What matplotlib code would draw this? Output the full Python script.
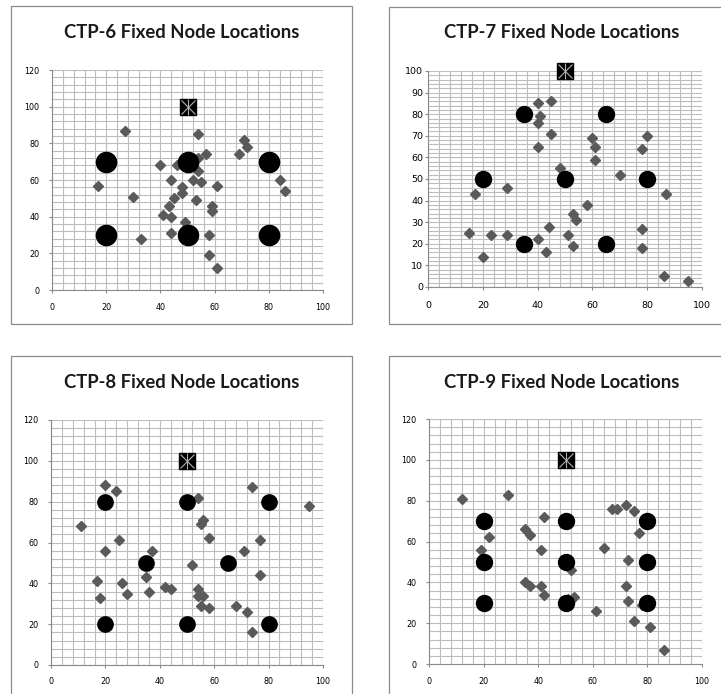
"""Four panels of fixed node locations (CTP-6 .. CTP-9)."""

import matplotlib
matplotlib.use("Agg")
import matplotlib.pyplot as plt
from matplotlib.patches import Rectangle

W, H, DPI = 721, 694, 100

titles = ["CTP-6 Fixed Node Locations", "CTP-7 Fixed Node Locations",
          "CTP-8 Fixed Node Locations", "CTP-9 Fixed Node Locations"]

sink_x = [50]
sink_y = [100]

# CTP-6
fixed6_x = [20, 50, 80, 20, 50, 80]
fixed6_y = [70, 70, 70, 30, 30, 30]
nodes6_x = [27, 54, 71, 72, 69, 57, 54, 52, 46, 40, 54, 52, 55, 44, 61, 84, 86, 17,
            30, 48, 48, 45, 53, 43, 59, 59, 41, 44, 49, 44, 58, 33, 58, 61]
nodes6_y = [87, 85, 82, 78, 74, 74, 72, 71, 68, 68, 65, 60, 59, 60, 57, 60, 54, 57,
            51, 56, 53, 50, 49, 46, 46, 43, 41, 40, 37, 31, 30, 28, 19, 12]

# CTP-7
fixed7_x = [35, 65, 20, 50, 80, 35, 65]
fixed7_y = [80, 80, 50, 50, 50, 20, 20]
nodes7_x = [40, 45, 41, 40, 45, 40, 60, 61, 61, 80, 78, 70, 48, 49, 29, 17, 87, 58,
            53, 54, 44, 15, 23, 29, 40, 51, 78, 78, 43, 53, 20, 86, 95]
nodes7_y = [85, 86, 79, 76, 71, 65, 69, 65, 59, 70, 64, 52, 55, 49, 46, 43, 43, 38,
            34, 31, 28, 25, 24, 24, 22, 24, 27, 18, 16, 19, 14, 5, 3]

# CTP-8
fixed8_x = [20, 50, 80, 35, 65, 20, 50, 80]
fixed8_y = [80, 80, 80, 50, 50, 20, 20, 20]
nodes8_x = [20, 24, 11, 25, 20, 17, 18, 26, 28, 35, 37, 36, 42, 44, 54, 56, 55, 58,
            52, 54, 54, 56, 55, 58, 68, 72, 74, 71, 77, 77, 74, 95]
nodes8_y = [88, 85, 68, 61, 56, 41, 33, 40, 35, 43, 56, 36, 38, 37, 82, 71, 69, 62,
            49, 37, 34, 34, 29, 28, 29, 26, 16, 56, 61, 44, 87, 78]

# CTP-9
fixed9_x = [20, 20, 20, 50, 50, 50, 80, 80, 80]
fixed9_y = [70, 50, 30, 70, 50, 30, 70, 50, 30]
nodes9_x = [12, 29, 42, 35, 37, 22, 19, 41, 35, 37, 41, 42, 52, 51, 53, 61, 64, 67,
            69, 72, 75, 77, 73, 72, 73, 75, 78, 81, 86]
nodes9_y = [81, 83, 72, 66, 63, 62, 56, 56, 40, 38, 38, 34, 46, 32, 33, 26, 57, 76,
            76, 78, 75, 64, 51, 38, 31, 21, 29, 18, 7]

panels = [
    (fixed6_x, fixed6_y, nodes6_x, nodes6_y),
    (fixed7_x, fixed7_y, nodes7_x, nodes7_y),
    (fixed8_x, fixed8_y, nodes8_x, nodes8_y),
    (fixed9_x, fixed9_y, nodes9_x, nodes9_y),
]

# pixel boxes: (left, top, right, bottom) for frame and plot area
frames = [(11, 6, 352, 324), (389, 7, 730, 324),
          (11, 356, 352, 705), (389, 356, 730, 705)]
areas = [(52, 70, 323, 290), (428, 71, 702, 287),
         (51, 420, 323, 665), (429, 419, 702, 664)]
title_pos = [(182, 33), (562, 33), (182, 383), (562, 383)]
circle_ms = [14.5, 11.5, 11.0, 11.5]
grid_col = "#bdbdbd"

fig = plt.figure(figsize=(W / DPI, H / DPI), dpi=DPI)
fig.patch.set_facecolor("white")


def fx(px):
    return px / W


def fy(py):
    return 1 - py / H


for i, (fxs, fys, nxs, nys) in enumerate(panels):
    l, t, r, b = frames[i]
    fig.add_artist(Rectangle((fx(l), fy(b)), fx(r) - fx(l), fy(t) - fy(b),
                             transform=fig.transFigure, fill=False,
                             edgecolor="#8c8c8c", linewidth=0.9))
    tx, ty = title_pos[i]
    fig.text(fx(tx), fy(ty), titles[i], ha="center", va="center",
             fontsize=13.3, fontweight="bold", family="Lato", color="#1a1a1a")

    l, t, r, b = areas[i]
    ax = fig.add_axes([fx(l), fy(b), fx(r) - fx(l), fy(t) - fy(b)])
    ax.set_xlim(0, 100)
    ax.set_xticks(range(0, 101, 20))
    ax.set_xticks(range(0, 101, 4), minor=True)
    if i == 1:
        ax.set_ylim(0, 100)
        ax.set_yticks(range(0, 101, 10))
        ax.set_yticks(range(0, 101, 2), minor=True)
        lab_fs, ypad, xpad = 6.8, 1.0, 7.5
    else:
        ax.set_ylim(0, 120)
        ax.set_yticks(range(0, 121, 20))
        ax.set_yticks(range(0, 121, 4), minor=True)
        lab_fs, ypad, xpad = 5.8, 6.5, 6.5
    ax.grid(which="both", color=grid_col, linewidth=0.8)
    ax.set_axisbelow(True)
    for side in ["top", "right"]:
        ax.spines[side].set_visible(False)
    for side in ["left", "bottom"]:
        ax.spines[side].set_color("#8a8a8a")
        ax.spines[side].set_linewidth(0.8)
    ax.tick_params(which="major", length=2.5, width=0.8, color="#8a8a8a",
                   labelsize=lab_fs)
    ax.tick_params(axis="x", which="major", pad=xpad)
    ax.tick_params(axis="y", which="major", pad=ypad)
    ax.tick_params(which="minor", length=0)

    ax.plot(nxs, nys, linestyle="none", marker="D", markersize=5.2,
            color="#5a5a5a", clip_on=False, zorder=3)
    ax.plot(fxs, fys, linestyle="none", marker="o", markersize=circle_ms[i],
            color="black", clip_on=False, zorder=4)
    ax.plot(sink_x, sink_y, linestyle="none", marker="s", markersize=12,
            color="black", clip_on=False, zorder=5)
    ax.plot(sink_x, sink_y, linestyle="none", marker="x", markersize=10,
            markeredgewidth=0.8, color="#b0b0b0", clip_on=False, zorder=6)
    ax.plot(sink_x, sink_y, linestyle="none", marker="|", markersize=12,
            markeredgewidth=0.8, color="#b0b0b0", clip_on=False, zorder=6)

fig.savefig("out.png", dpi=DPI)
